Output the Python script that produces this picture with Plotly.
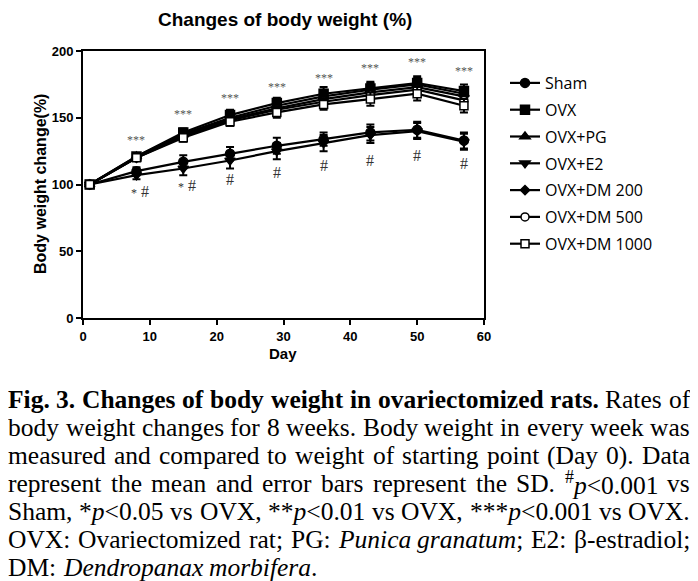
import re
import plotly.graph_objects as go

days = [1, 8, 15, 22, 29, 36, 43, 50, 57]

group_names = ["Sham", "OVX", "OVX+PG", "OVX+E2", "OVX+DM 200", "OVX+DM 500", "OVX+DM 1000"]
sham   = [100, 110, 117, 123, 129, 134, 139, 141, 133]
ovx    = [100, 121, 139, 152, 161, 168, 172, 176, 170]
ovx_pg = [100, 121, 138, 150, 159, 166, 171, 175, 168]
ovx_e2 = [100, 107, 112, 118, 125, 131, 137, 140, 132]
dm200  = [100, 120, 137, 149, 157, 164, 169, 173, 166]
dm500  = [100, 120, 136, 148, 156, 162, 167, 171, 163]
dm1000 = [100, 120, 135, 147, 154, 160, 164, 168, 159]

sd_sham   = [0, 3, 5, 5, 6, 5, 6, 6, 6]
sd_ovx    = [0, 2, 3, 4, 4, 5, 5, 5, 5]
sd_pg     = [0, 2, 3, 4, 4, 5, 5, 5, 5]
sd_e2     = [0, 3, 5, 6, 6, 6, 6, 6, 6]
sd_dm200  = [0, 2, 3, 4, 4, 4, 5, 5, 5]
sd_dm500  = [0, 2, 3, 4, 4, 4, 5, 5, 5]
sd_dm1000 = [0, 2, 3, 3, 4, 4, 5, 5, 5]

star_days = [8, 15, 22, 29, 36, 43, 50, 57]
star_y = [133, 153, 165, 173, 180, 187, 192, 185]
star_labels = ["***"] * 8
hash_y = [95, 99, 104, 109, 114, 118, 122, 116]
hash_labels = ["<span style='font-size:12px'>*</span> #", "<span style='font-size:12px'>*</span> #",
               "#", "#", "#", "#", "#", "#"]

caption_lines = [
    "<b>Fig.</b> <b>3.</b> <b>Changes</b> <b>of</b> <b>body</b> <b>weight</b> <b>in</b> <b>ovariectomized</b> <b>rats.</b> Rates of",
    "body weight changes for 8 weeks. Body weight in every week was",
    "measured and compared to weight of starting point (Day 0). Data",
    "represent the mean and error bars represent the SD. <sup>#</sup><i>p</i>&lt;0.001 vs",
    "Sham, *<i>p</i>&lt;0.05 vs OVX, **<i>p</i>&lt;0.01 vs OVX, ***<i>p</i>&lt;0.001 vs OVX.",
    "OVX: Ovariectomized rat; PG: <i>Punica</i> <i>granatum</i>; E2: β-estradiol;",
    "DM: <i>Dendropanax</i> <i>morbifera</i>.",
]
justify = [True, True, True, True, True, True, False]

# ---- Times (Liberation Serif) advance widths, per 1000 em ----
REG = dict(zip("abcdefghijklmnopqrstuvwxyz",
               [444, 500, 444, 500, 444, 333, 500, 500, 278, 278, 500, 278, 778, 500, 500, 500, 500,
                333, 389, 278, 500, 500, 722, 500, 500, 444]))
REG.update(dict(zip("ABCDEFGHIJKLMNOPQRSTUVWXYZ",
                    [722, 667, 667, 722, 611, 556, 722, 722, 333, 389, 722, 611, 889, 722, 722, 556,
                     722, 667, 556, 611, 722, 722, 944, 722, 722, 611])))
REG.update({c: 500 for c in "0123456789"})
REG.update({".": 250, ",": 250, ";": 278, ":": 278, "(": 333, ")": 333, "*": 500, "#": 500,
            "<": 564, "-": 333, "β": 500, " ": 250})
BOLD = dict(REG)
BOLD.update(dict(zip("abcdefghijklmnopqrstuvwxyz",
                     [500, 556, 444, 556, 444, 333, 500, 556, 278, 333, 556, 278, 833, 556, 500, 556,
                      556, 444, 389, 333, 556, 500, 722, 500, 500, 444])))
BOLD.update({"F": 611, "C": 722, ".": 250})
ITAL = dict(REG)
ITAL.update(dict(zip("abcdefghijklmnopqrstuvwxyz",
                     [500, 500, 444, 500, 444, 278, 500, 500, 278, 278, 444, 278, 722, 500, 500, 500,
                      500, 389, 389, 278, 500, 444, 667, 444, 444, 389])))
ITAL.update({"D": 722})


def measure(html, size):
    w = 0.0
    bold = ital = sup = False
    for m in re.finditer(r"(<[^>]+>)|(&lt;)|(.)", html):
        tag, lt, ch = m.groups()
        if tag:
            t = tag.lower()
            if t == "<b>": bold = True
            elif t == "</b>": bold = False
            elif t == "<i>": ital = True
            elif t == "</i>": ital = False
            elif t == "<sup>": sup = True
            elif t == "</sup>": sup = False
            continue
        c = "<" if lt else ch
        table = BOLD if bold else (ITAL if ital else REG)
        w += table.get(c, 500) / 1000.0 * size * (0.7 if sup else 1.0)
    return w


series = [sham, ovx, ovx_pg, ovx_e2, dm200, dm500, dm1000]
sds = [sd_sham, sd_ovx, sd_pg, sd_e2, sd_dm200, sd_dm500, sd_dm1000]
symbols = ["circle", "square", "triangle-up", "triangle-down", "diamond", "circle", "square"]
fills = ["black", "black", "black", "black", "black", "white", "white"]
sizes = [9, 9, 9, 9, 7, 8, 8]

# page offset (browser body margin) = 8 px
OFF = 8
W, H = 698 - OFF, 581 - OFF
ml, mt = 83 - OFF, 51 - OFF
mr = W - (484 - OFF)
mb = H - (318 - OFF)
pw = W - ml - mr
ph = H - mt - mb


def px(xp):
    return (xp - OFF - ml) / pw


def py(yp):
    return (H - mb - (yp - OFF)) / ph


fig = go.Figure()
for i, (name, vals, sd) in enumerate(zip(group_names, series, sds)):
    fig.add_trace(go.Scatter(
        x=days, y=vals, name=name, mode="lines+markers",
        line=dict(color="black", width=2.2),
        marker=dict(symbol=symbols[i], size=sizes[i], color=fills[i],
                    line=dict(color="black", width=1.5)),
        error_y=dict(type="data", array=sd, visible=True, color="black",
                     thickness=2, width=4),
        legendgroup=name,
    ))

annotations = []
for d, yv, t in zip(star_days, star_y, star_labels):
    annotations.append(dict(x=d, y=yv, xref="x", yref="y", text=t, showarrow=False,
                            font=dict(family="Liberation Serif", size=12, color="#555555")))
for d, yv, t in zip(star_days, hash_y, hash_labels):
    annotations.append(dict(x=d, y=yv, xref="x", yref="y", text=t, showarrow=False,
                            xshift=4 if "*" in t else 0,
                            font=dict(family="Liberation Serif", size=16, color="#333333")))

CAP_SIZE = 25.5
LEFT, RIGHT = 6, 688
for k, line in enumerate(caption_lines):
    yp = 399 + 28.1 * k
    words = line.split(" ")
    widths = [measure(wd, CAP_SIZE) for wd in words]
    if justify[k] and len(words) > 1:
        gap = (RIGHT - LEFT - sum(widths)) / (len(words) - 1)
    else:
        gap = 0.25 * CAP_SIZE
    xcur = LEFT
    for wd, wv in zip(words, widths):
        annotations.append(dict(x=px(xcur), y=py(yp), xref="paper", yref="paper", text=wd,
                                showarrow=False, xanchor="left", yanchor="middle",
                                font=dict(family="Liberation Serif", size=CAP_SIZE, color="black")))
        xcur += wv + gap

annotations.append(dict(x=px(285), y=py(20), xref="paper", yref="paper",
                        text="<b>Changes of body weight (%)</b>", showarrow=False,
                        xanchor="center", yanchor="middle",
                        font=dict(family="Arial", size=19, color="black")))
annotations.append(dict(x=px(283), y=py(353), xref="paper", yref="paper",
                        text="<b>Day</b>", showarrow=False, xanchor="center", yanchor="middle",
                        font=dict(family="Arial", size=15, color="black")))
annotations.append(dict(x=px(40), y=py(184), xref="paper", yref="paper",
                        text="<b>Body weight change(%)</b>", showarrow=False, textangle=-90,
                        xanchor="center", yanchor="middle",
                        font=dict(family="Arial", size=16, color="black")))

fig.update_layout(
    width=W, height=H,
    margin=dict(l=ml, r=mr, t=mt, b=mb),
    paper_bgcolor="white", plot_bgcolor="white",
    font=dict(family="Arial", color="black"),
    annotations=annotations,
    showlegend=True,
    legend=dict(x=px(505), y=py(66), xanchor="left", yanchor="top",
                font=dict(family="Open Sans", size=16, color="black"),
                tracegroupgap=3, bgcolor="rgba(0,0,0,0)", itemwidth=30),
    xaxis=dict(range=[0, 60], tickvals=[0, 10, 20, 30, 40, 50, 60], showgrid=False,
               zeroline=False, showline=True, linecolor="black", linewidth=2, mirror=True,
               ticks="outside", ticklen=5, tickwidth=2, tickcolor="black",
               tickfont=dict(family="Arial", size=13, color="black", weight="bold")),
    yaxis=dict(range=[0, 200], tickvals=[0, 50, 100, 150, 200], showgrid=False,
               zeroline=False, showline=True, linecolor="black", linewidth=2, mirror=True,
               ticks="outside", ticklen=5, tickwidth=2, tickcolor="black",
               tickfont=dict(family="Arial", size=13, color="black", weight="bold")),
)

fig.write_html("out.html")
